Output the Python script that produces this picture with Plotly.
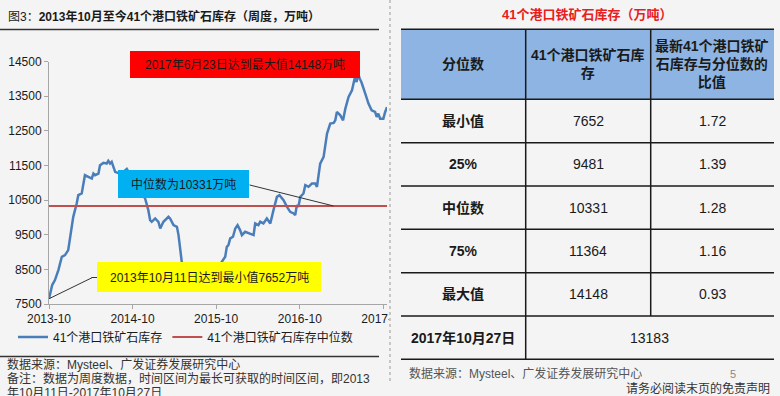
import plotly.graph_objects as go

W, H = 780, 396

# ---------------- data ----------------
dates = [
    "2013-10-11", "2013-10-25", "2013-11-06", "2013-11-21", "2013-12-06", "2013-12-20",
    "2014-01-03", "2014-01-11", "2014-01-25", "2014-02-09", "2014-02-16", "2014-03-03",
    "2014-03-10", "2014-03-17", "2014-04-01", "2014-04-16", "2014-04-23", "2014-04-30",
    "2014-05-15", "2014-05-22", "2014-06-06", "2014-06-20", "2014-06-27", "2014-07-05",
    "2014-07-12", "2014-07-27", "2014-08-21", "2014-09-16", "2014-10-13", "2014-11-09",
    "2014-12-05", "2014-12-19", "2014-12-27", "2015-01-03", "2015-01-18", "2015-02-01",
    "2015-02-09", "2015-02-23", "2015-03-10", "2015-03-17", "2015-03-24", "2015-04-01",
    "2015-04-08", "2015-04-23", "2015-04-30", "2015-05-07", "2015-05-14", "2015-05-29",
    "2015-06-20", "2015-07-20", "2015-08-24", "2015-09-28", "2015-10-25", "2015-11-05",
    "2015-11-20", "2015-11-27", "2015-12-04", "2015-12-12", "2015-12-24", "2016-01-03",
    "2016-01-13", "2016-01-24", "2016-02-01", "2016-02-15", "2016-03-01", "2016-03-23",
    "2016-03-30", "2016-04-13", "2016-04-21", "2016-05-05", "2016-05-20", "2016-06-04",
    "2016-06-18", "2016-07-03", "2016-07-14", "2016-08-01", "2016-08-16", "2016-08-30",
    "2016-09-14", "2016-09-21", "2016-09-28", "2016-10-05", "2016-10-13", "2016-10-27",
    "2016-11-04", "2016-11-18", "2016-12-03", "2016-12-17", "2016-12-25", "2017-01-01",
    "2017-01-08", "2017-01-23", "2017-02-07", "2017-02-21", "2017-03-08", "2017-03-15",
    "2017-03-22", "2017-04-06", "2017-04-18", "2017-04-28", "2017-05-12", "2017-05-27",
    "2017-06-03", "2017-06-09", "2017-06-16", "2017-06-23", "2017-06-30", "2017-07-07",
    "2017-07-24", "2017-08-07", "2017-08-21", "2017-09-05", "2017-09-12", "2017-09-19",
    "2017-09-27", "2017-10-11", "2017-10-19", "2017-10-27",
]
inventory = [
    7652, 8047, 8190, 8480, 8863, 8912,
    9056, 9440, 10016, 10402, 10641, 10690,
    10978, 11218, 11169, 11122, 11266, 11218,
    11266, 11506, 11573, 11554, 11631, 11554,
    11602, 11314, 11250, 11400, 11100, 10800,
    10545, 10209, 9921, 9873, 9969, 9873,
    9681, 9873, 9969, 10017, 9969, 9873,
    9777, 9729, 9489, 9105, 8720, 8400,
    8250, 8300, 8450, 8350, 8550, 8720,
    8863, 9152, 9200, 9393, 9441, 9681,
    9777, 9633, 9489, 9585, 9537, 9489,
    9825, 9777, 9873, 9825, 9969, 9825,
    10209, 10593, 10641, 10497, 10305, 10160,
    10113, 10065, 10353, 10305, 10593, 10690,
    10930, 10882, 10978, 10978, 10882, 11218,
    11554, 11746, 12419, 12707, 12726, 12803,
    13043, 12947, 12803, 13139, 13475, 13667,
    13907, 14051, 13907, 14148, 14003, 13907,
    13571, 13283, 13091, 13043, 12899, 12995,
    12851, 12851, 13043, 13183,
]

x_tick_vals = ["2013-10-11", "2014-10-11", "2015-10-11", "2016-10-11", "2017-10-11"]
x_tick_text = ["2013-10", "2014-10", "2015-10", "2016-10", "2017-10"]
y_tick_vals = [7500, 8500, 9500, 10500, 11500, 12500, 13500, 14500]
y_tick_text = ["7500", "8500", "9500", "10500", "11500", "12500", "13500", "14500"]

table_header = ["分位数", "41个港口铁矿石库<br>存", "最新41个港口铁矿<br>石库存与分位数的<br>比值"]
table_rows = ["最小值", "25%", "中位数", "75%", "最大值"]
table_values = [7652, 9481, 10331, 11364, 14148]
table_ratios = ["1.72", "1.39", "1.28", "1.16", "0.93"]
latest_label = "2017年10月27日"
latest_value = 13183
median_value = table_values[2]
median_pointer_date = "2017-03-07"

series_name = "41个港口铁矿石库存"
median_name = "41个港口铁矿石库存中位数"

# ---------------- style ----------------
BG = "#f4f4f4"
NUM_FONT = "Liberation Sans, Arial, Noto Sans CJK SC"
CJK_FONT = "Liberation Sans, Noto Sans CJK SC"
TXT = "#1a1a1a"


def px(x):
    return x / W


def py(y):
    return 1 - y / H


fig = go.Figure()
fig.add_trace(go.Scatter(
    x=dates, y=inventory, mode="lines", name=series_name,
    line=dict(color="#4a7ebb", width=2.5),
))
fig.add_trace(go.Scatter(
    x=[dates[0], dates[-1]], y=[median_value, median_value], mode="lines",
    name=median_name, line=dict(color="#c0504d", width=2),
))

shapes = []
annotations = []

# left panel rules
shapes.append(dict(type="line", xref="paper", yref="paper", x0=0, x1=px(379),
                   y0=py(29.5), y1=py(29.5), line=dict(color="#333333", width=1.5)))
shapes.append(dict(type="line", xref="paper", yref="paper", x0=0, x1=px(379),
                   y0=py(356.5), y1=py(356.5), line=dict(color="#333333", width=1.5)))

# cover overflow of last tick label
shapes.append(dict(type="rect", xref="paper", yref="paper", x0=px(389), x1=px(410),
                   y0=py(328), y1=py(307), fillcolor=BG, line=dict(width=0), layer="above"))
# dashed separator
shapes.append(dict(type="line", xref="paper", yref="paper", x0=px(390), x1=px(390),
                   y0=py(0), y1=py(382), line=dict(color="#999999", width=1, dash="dot")))

# callout boxes
boxes = [
    (130, 360, 51, 78, "#ff0000", "2017年6月23日达到最大值14148万吨"),
    (118, 249, 170, 198, "#00b0f0", "中位数为10331万吨"),
    (97, 321, 262, 292, "#ffff00", "2013年10月11日达到最小值7652万吨"),
]
for x0, x1, y0, y1, col, txt in boxes:
    shapes.append(dict(type="rect", xref="paper", yref="paper", x0=px(x0), x1=px(x1),
                       y0=py(y1), y1=py(y0), fillcolor=col, line=dict(width=0), layer="above"))
    annotations.append(dict(xref="paper", yref="paper", x=px((x0 + x1) / 2), y=py((y0 + y1) / 2),
                            text=txt, showarrow=False, xanchor="center", yanchor="middle",
                            font=dict(family=CJK_FONT, size=12, color=TXT)))

# leader lines anchored at data points
shapes.append(dict(type="line", xref="x", yref="y", xsizemode="pixel", ysizemode="pixel",
                   xanchor=dates[0], yanchor=inventory[0], x0=0, y0=0, x1=43, y1=21,
                   line=dict(color="#333333", width=1)))
shapes.append(dict(type="line", xref="paper", yref="paper", x0=px(91.5), x1=px(97),
                   y0=py(277.5), y1=py(277.5), line=dict(color="#333333", width=1)))
shapes.append(dict(type="line", xref="x", yref="y", xsizemode="pixel", ysizemode="pixel",
                   xanchor=median_pointer_date, yanchor=median_value, x0=0, y0=0, x1=-84, y1=21,
                   line=dict(color="#333333", width=1)))

# title
annotations.append(dict(xref="paper", yref="paper", x=px(6), y=py(16), xanchor="left", yanchor="middle",
                        showarrow=False,
                        text="图3：<b>2013年10月至今41个港口铁矿石库存（周度，万吨）</b>",
                        font=dict(family=CJK_FONT, size=12, color=TXT)))
# left source/notes
notes = [
    (364, "数据来源：Mysteel、广发证券发展研究中心"),
    (378.5, "备注：数据为周度数据，时间区间为最长可获取的时间区间，即2013"),
    (393, "年10月11日-2017年10月27日"),
]
for yy, t in notes:
    annotations.append(dict(xref="paper", yref="paper", x=px(5), y=py(yy), xanchor="left",
                            yanchor="middle", showarrow=False, text=t,
                            font=dict(family=CJK_FONT, size=12, color="#333333")))

# ---------------- right table ----------------
TL, TR = 401, 774
COLS = [401, 525.7, 650.7, 774]
ROWS = [29.3, 99.3, 142.7, 186, 229.3, 272.7, 316, 359.3]
centers = [(COLS[i] + COLS[i + 1]) / 2 for i in range(3)]

annotations.append(dict(xref="paper", yref="paper", x=px(587), y=py(15), xanchor="center",
                        yanchor="middle", showarrow=False,
                        text="<b>41个港口铁矿石库存（万吨）</b>",
                        font=dict(family=CJK_FONT, size=13, color="#e8201c")))

shapes.append(dict(type="rect", xref="paper", yref="paper", x0=px(TL), x1=px(TR),
                   y0=py(ROWS[1]), y1=py(ROWS[0]), fillcolor="#8db4e2", line=dict(width=0),
                   layer="above"))
for yy in ROWS:
    shapes.append(dict(type="line", xref="paper", yref="paper", x0=px(TL), x1=px(TR),
                       y0=py(yy), y1=py(yy), line=dict(color="#1a1a1a", width=1.5)))
shapes.append(dict(type="line", xref="paper", yref="paper", x0=px(COLS[1]), x1=px(COLS[1]),
                   y0=py(ROWS[0]), y1=py(ROWS[-1]), line=dict(color="#1a1a1a", width=1.5)))
shapes.append(dict(type="line", xref="paper", yref="paper", x0=px(COLS[2]), x1=px(COLS[2]),
                   y0=py(ROWS[0]), y1=py(ROWS[-2]), line=dict(color="#1a1a1a", width=1.5)))

for i, h in enumerate(table_header):
    annotations.append(dict(xref="paper", yref="paper", x=px(centers[i]),
                            y=py((ROWS[0] + ROWS[1]) / 2), xanchor="center", yanchor="middle",
                            showarrow=False, text="<b>" + h + "</b>",
                            font=dict(family=CJK_FONT, size=14, color=TXT)))
for r, (lab, val, rat) in enumerate(zip(table_rows, table_values, table_ratios)):
    yc = py((ROWS[r + 1] + ROWS[r + 2]) / 2)
    annotations.append(dict(xref="paper", yref="paper", x=px(centers[0]), y=yc, xanchor="center",
                            yanchor="middle", showarrow=False, text="<b>" + lab + "</b>",
                            font=dict(family=CJK_FONT, size=14, color=TXT)))
    annotations.append(dict(xref="paper", yref="paper", x=px(centers[1]), y=yc, xanchor="center",
                            yanchor="middle", showarrow=False, text=str(val),
                            font=dict(family=NUM_FONT, size=14, color=TXT)))
    annotations.append(dict(xref="paper", yref="paper", x=px(centers[2]), y=yc, xanchor="center",
                            yanchor="middle", showarrow=False, text=rat,
                            font=dict(family=NUM_FONT, size=14, color=TXT)))
yc = py((ROWS[-2] + ROWS[-1]) / 2)
annotations.append(dict(xref="paper", yref="paper", x=px(centers[0]), y=yc, xanchor="center",
                        yanchor="middle", showarrow=False, text="<b>" + latest_label + "</b>",
                        font=dict(family=CJK_FONT, size=14, color=TXT)))
annotations.append(dict(xref="paper", yref="paper", x=px((COLS[1] + COLS[3]) / 2), y=yc,
                        xanchor="center", yanchor="middle", showarrow=False, text=str(latest_value),
                        font=dict(family=NUM_FONT, size=14, color=TXT)))

annotations.append(dict(xref="paper", yref="paper", x=px(407), y=py(373), xanchor="left",
                        yanchor="middle", showarrow=False,
                        text="数据来源：Mysteel、广发证券发展研究中心",
                        font=dict(family=CJK_FONT, size=12, color="#555555")))
annotations.append(dict(xref="paper", yref="paper", x=px(733), y=py(374), xanchor="center",
                        yanchor="middle", showarrow=False, text="5",
                        font=dict(family=NUM_FONT, size=11, color="#888888")))
annotations.append(dict(xref="paper", yref="paper", x=px(772), y=py(388.5), xanchor="right",
                        yanchor="middle", showarrow=False, text="请务必阅读末页的免责声明",
                        font=dict(family=CJK_FONT, size=12, color="#333333")))

fig.update_layout(
    width=W, height=H,
    margin=dict(l=0, r=0, t=0, b=0, autoexpand=False),
    paper_bgcolor=BG, plot_bgcolor=BG,
    showlegend=True,
    legend=dict(orientation="h", x=px(13), y=py(337), xanchor="left", yanchor="middle",
                bgcolor="rgba(0,0,0,0)", font=dict(family=CJK_FONT, size=12, color=TXT),
                itemclick=False),
    xaxis=dict(type="date", domain=[px(49), px(387)], range=[dates[0], dates[-1]],
               tickvals=x_tick_vals, ticktext=x_tick_text, showgrid=False, zeroline=False,
               showline=True, linecolor="#a6a6a6", linewidth=1, ticks="outside", ticklen=4,
               tickcolor="#a6a6a6", tickfont=dict(family=NUM_FONT, size=12, color=TXT),
               fixedrange=True, automargin=False),
    yaxis=dict(domain=[py(304), py(61.5)], range=[7500, 14500], tickvals=y_tick_vals,
               ticktext=y_tick_text,
               showgrid=False, zeroline=False, showline=True, linecolor="#a6a6a6", linewidth=1,
               ticks="outside", ticklen=4, tickcolor="#a6a6a6",
               tickfont=dict(family=NUM_FONT, size=12, color=TXT), fixedrange=True,
               automargin=False),
    shapes=shapes,
    annotations=annotations,
)

fig.write_html(
    "out.html",
    config={"displayModeBar": False},
    post_script="document.body.style.margin='0';document.body.style.overflow='hidden';",
)
